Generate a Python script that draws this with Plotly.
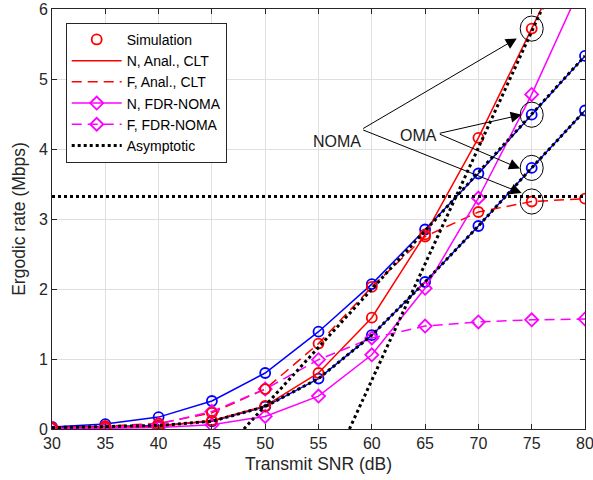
import plotly.graph_objects as go

snr = [30, 35, 40, 45, 50, 55, 60, 65, 70, 75, 80]
n_anal = [0.01, 0.02, 0.04, 0.12, 0.33, 0.80, 1.59, 2.78, 4.16, 5.72, 7.30]
f_anal = [0.02, 0.04, 0.08, 0.23, 0.57, 1.22, 2.03, 2.75, 3.10, 3.25, 3.29]
n_fdr = [0.00, 0.005, 0.02, 0.06, 0.18, 0.47, 1.06, 2.01, 3.30, 4.78, 6.45]
f_fdr = [0.01, 0.02, 0.07, 0.25, 0.57, 0.99, 1.30, 1.47, 1.53, 1.56, 1.57]
oma_n = [0.03, 0.07, 0.17, 0.40, 0.80, 1.39, 2.07, 2.85, 3.65, 4.49, 5.33]
oma_f = [0.02, 0.03, 0.05, 0.11, 0.32, 0.72, 1.34, 2.10, 2.90, 3.73, 4.55]

asym_far_x = [30, 80]
asym_far_y = [3.32, 3.32]
asym_noma_n_x = [57.9, 80]
asym_noma_n_y = [0.0, 7.34]
asym_oma_n_x = [48.0, 80]
asym_oma_n_y = [0.0, 5.33]

RED = "#ff0000"
MAG = "#ff00ff"
BLUE = "#0000ff"

fig = go.Figure()

# OMA curves (not in legend)
fig.add_trace(go.Scatter(x=snr, y=oma_n, mode="lines+markers", showlegend=False,
                         line=dict(color=BLUE, width=1.5),
                         marker=dict(symbol="circle-open", size=10, color=BLUE, line=dict(width=1.8))))
fig.add_trace(go.Scatter(x=snr, y=oma_f, mode="lines+markers", showlegend=False,
                         line=dict(color=BLUE, width=1.5),
                         marker=dict(symbol="circle-open", size=10, color=BLUE, line=dict(width=1.8))))

# Analytical
fig.add_trace(go.Scatter(x=snr, y=n_anal, mode="lines", name="N, Anal., CLT", legendrank=2,
                         line=dict(color=RED, width=1.5)))
fig.add_trace(go.Scatter(x=snr, y=f_anal, mode="lines", name="F, Anal., CLT", legendrank=3,
                         line=dict(color=RED, width=1.5, dash="10px,6px")))

# FDR-NOMA
fig.add_trace(go.Scatter(x=snr, y=n_fdr, mode="lines+markers", name="N, FDR-NOMA", legendrank=4,
                         line=dict(color=MAG, width=1.5),
                         marker=dict(symbol="diamond-open", size=10, color=MAG, line=dict(width=1.8))))
fig.add_trace(go.Scatter(x=snr, y=f_fdr, mode="lines+markers", name="F, FDR-NOMA", legendrank=5,
                         line=dict(color=MAG, width=1.5, dash="10px,6px"),
                         marker=dict(symbol="diamond-open", size=10, color=MAG, line=dict(width=1.8))))

# Simulation markers
fig.add_trace(go.Scatter(x=snr + snr, y=n_anal + f_anal, mode="markers", name="Simulation", legendrank=1,
                         marker=dict(symbol="circle-open", size=10, color=RED, line=dict(width=1.8))))

# Asymptotic
dot = dict(color="black", width=3, dash="dot")
fig.add_trace(go.Scatter(x=asym_far_x, y=asym_far_y, mode="lines", name="Asymptotic", legendrank=6, line=dot))
fig.add_trace(go.Scatter(x=asym_noma_n_x, y=asym_noma_n_y, mode="lines", showlegend=False, line=dot))
fig.add_trace(go.Scatter(x=asym_oma_n_x, y=asym_oma_n_y, mode="lines", showlegend=False, line=dot))
fig.add_trace(go.Scatter(x=snr, y=oma_f, mode="lines", showlegend=False, line=dot))

# Ellipses around highlighted points at 75 dB
idx = snr.index(75)
shapes = []
for v in [n_anal[idx], oma_n[idx], oma_f[idx], f_anal[idx]]:
    shapes.append(dict(type="circle", xref="x", yref="y", x0=75 - 1.08, x1=75 + 1.08,
                       y0=v - 0.18, y1=v + 0.18, line=dict(color="black", width=1)))

annotations = []
noma_tail = (59.05, 4.28)
oma_tail = (66.24, 4.22)
for head in [(73.6, 5.58), (74.06, 3.37)]:
    annotations.append(dict(x=head[0], y=head[1], ax=noma_tail[0], ay=noma_tail[1], xref="x", yref="y",
                            axref="x", ayref="y", text="", showarrow=True, arrowhead=2, arrowsize=2.2,
                            arrowwidth=1, arrowcolor="black", standoff=0, startstandoff=0))
for head in [(74.06, 4.49), (73.9, 3.72)]:
    annotations.append(dict(x=head[0], y=head[1], ax=oma_tail[0], ay=oma_tail[1], xref="x", yref="y",
                            axref="x", ayref="y", text="", showarrow=True, arrowhead=2, arrowsize=2.2,
                            arrowwidth=1, arrowcolor="black", standoff=0, startstandoff=0))
annotations.append(dict(x=56.7, y=4.11, xref="x", yref="y", text="NOMA", showarrow=False,
                        font=dict(size=16, color="#1a1a1a")))
annotations.append(dict(x=64.36, y=4.2, xref="x", yref="y", text="OMA", showarrow=False,
                        font=dict(size=16, color="#1a1a1a")))

axis_common = dict(showline=True, linecolor="#262626", linewidth=1, mirror="ticks", ticks="inside",
                   ticklen=5, tickcolor="#262626", showgrid=True, gridcolor="#dfdfdf", gridwidth=1,
                   zeroline=False, tickfont=dict(size=16, color="#262626"), automargin=False,
                   ticklabeloverflow="allow")

fig.update_layout(
    width=593, height=480,
    margin=dict(l=52, r=8, t=9, b=51),
    paper_bgcolor="white", plot_bgcolor="white",
    font=dict(family="Liberation Sans, Arial, sans-serif", color="#262626"),
    xaxis=dict(range=[30, 80], dtick=5, tick0=30,
               title=dict(text="Transmit SNR (dB)", font=dict(size=17.5), standoff=6), **axis_common),
    yaxis=dict(range=[0, 6], dtick=1, tick0=0,
               title=dict(text="Ergodic rate (Mbps)", font=dict(size=17.5), standoff=8), **axis_common),
    legend=dict(x=0.0257, y=0.967, xanchor="left", yanchor="top", bgcolor="white",
                bordercolor="#262626", borderwidth=1, font=dict(size=14, color="black"),
                itemwidth=50, tracegroupgap=0),
    shapes=shapes, annotations=annotations,
    showlegend=True,
)

fig.write_html("out.html")
